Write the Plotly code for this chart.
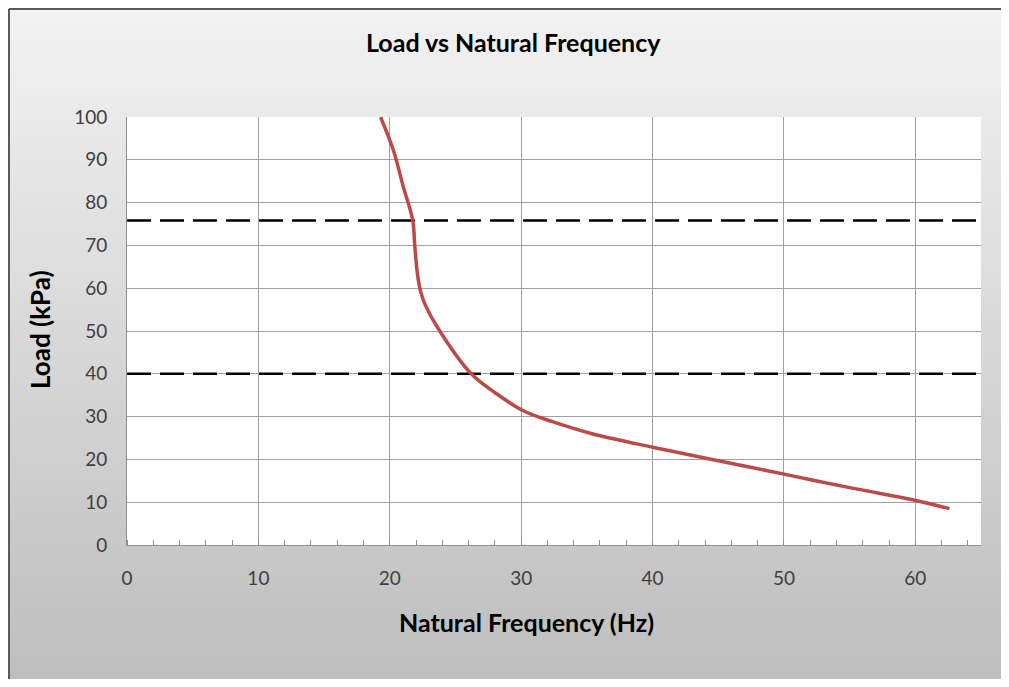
import plotly.graph_objects as go

# curve
freq_hz = [19.3, 20.3, 21.0, 21.75, 21.9, 22.1, 22.35, 22.7, 23.6, 26.2,
           28.1, 30.2, 32.5, 35.4, 40.1, 45.0, 50.1, 55.0, 60.2, 62.6]
load_kpa = [100, 92, 84, 75.8, 70, 63.5, 59.2, 56.1, 51, 40,
            35.4, 31.3, 28.7, 26.0, 22.8, 19.7, 16.5, 13.4, 10.3, 8.5]

# horizontal dashed limits
limit_x = [0, 65]
upper_limit = [75.8, 75.8]
lower_limit = [40, 40]

x_ticks = [0, 10, 20, 30, 40, 50, 60]
y_ticks = [0, 10, 20, 30, 40, 50, 60, 70, 80, 90, 100]

# page has an 8px body margin, so the figure is offset by 8px
OFF = 8
W, H = 1001, 671
ML, MR, MT, MB = 119, 28, 109, 134
PW, PH = W - ML - MR, H - MT - MB


def px_x(p):
    # page x pixel -> paper coordinate
    return (p - OFF - ML) / PW


def px_y(p):
    # page y pixel -> paper coordinate
    return (H - MB - (p - OFF)) / PH


font = "Lato"

fig = go.Figure()

fig.add_trace(go.Scatter(x=limit_x, y=upper_limit, mode="lines",
                         line=dict(color="black", width=2.5, dash="24px,9px"),
                         hoverinfo="skip"))
fig.add_trace(go.Scatter(x=limit_x, y=lower_limit, mode="lines",
                         line=dict(color="black", width=2.5, dash="24px,9px"),
                         hoverinfo="skip"))
fig.add_trace(go.Scatter(x=freq_hz, y=load_kpa, mode="lines",
                         line=dict(color="#BC4B48", width=3.5, shape="spline", smoothing=1.0)))

# gray gradient background, built from thin bands
shapes = []
n = 60
y_top, y_bot = px_y(OFF), px_y(OFF + H)
for i in range(n):
    t = i / (n - 1)
    c = round(242 - (242 - 190) * t)
    y1 = y_top - (y_top - y_bot) * i / n
    y0 = y_top - (y_top - y_bot) * (i + 1) / n - 0.003
    shapes.append(dict(type="rect", xref="paper", yref="paper", layer="below",
                       x0=px_x(OFF), x1=px_x(OFF + W), y0=y0, y1=y1,
                       fillcolor=f"rgb({c},{c},{c})", line=dict(width=0)))
# outer frame, top and left edges only
shapes.append(dict(type="line", xref="paper", yref="paper", layer="below",
                   x0=px_x(OFF + 1), x1=px_x(OFF + W), y0=px_y(OFF + 1), y1=px_y(OFF + 1),
                   line=dict(color="#5a5a5a", width=2)))
shapes.append(dict(type="line", xref="paper", yref="paper", layer="below",
                   x0=px_x(OFF + 1), x1=px_x(OFF + 1), y0=px_y(OFF + 1), y1=px_y(OFF + H),
                   line=dict(color="#5a5a5a", width=2)))
# white plot area
shapes.append(dict(type="rect", xref="x domain", yref="y domain", layer="below",
                   x0=0, x1=1, y0=0, y1=1, fillcolor="white", line=dict(width=0)))

annotations = [
    dict(text="<b>Load vs Natural Frequency</b>", xref="paper", yref="paper",
         x=px_x(513), y=px_y(42), showarrow=False, xanchor="center", yanchor="middle",
         font=dict(family=font, size=25, color="black")),
    dict(text="<b>Natural Frequency (Hz)</b>", xref="paper", yref="paper",
         x=px_x(526), y=px_y(622), showarrow=False, xanchor="center", yanchor="middle",
         font=dict(family=font, size=25, color="black")),
    dict(text="<b>Load (kPa)</b>", xref="paper", yref="paper", textangle=-90,
         x=px_x(40), y=px_y(330), showarrow=False, xanchor="center", yanchor="middle",
         font=dict(family=font, size=26, color="black")),
]

fig.update_layout(
    width=W, height=H,
    margin=dict(l=ML, r=MR, t=MT, b=MB, pad=0),
    paper_bgcolor="rgb(215,215,215)",
    plot_bgcolor="white",
    showlegend=False,
    shapes=shapes,
    annotations=annotations,
    font=dict(family=font, size=19, color="#404040"),
)

fig.update_xaxes(range=[0, 65], tickvals=x_ticks, showgrid=True, gridcolor="#a0a0a0",
                 gridwidth=1, showline=True, linecolor="#909090", linewidth=1,
                 zeroline=False, ticks="", ticklabelstandoff=16,
                 minor=dict(dtick=2, ticks="inside", ticklen=5, tickcolor="#909090",
                            showgrid=False))
fig.update_yaxes(range=[0, 100], tickvals=y_ticks, showgrid=True, gridcolor="#a0a0a0",
                 gridwidth=1, showline=True, linecolor="#909090", linewidth=1,
                 zeroline=False, ticks="", ticklabelstandoff=15)

fig.write_html("out.html")
